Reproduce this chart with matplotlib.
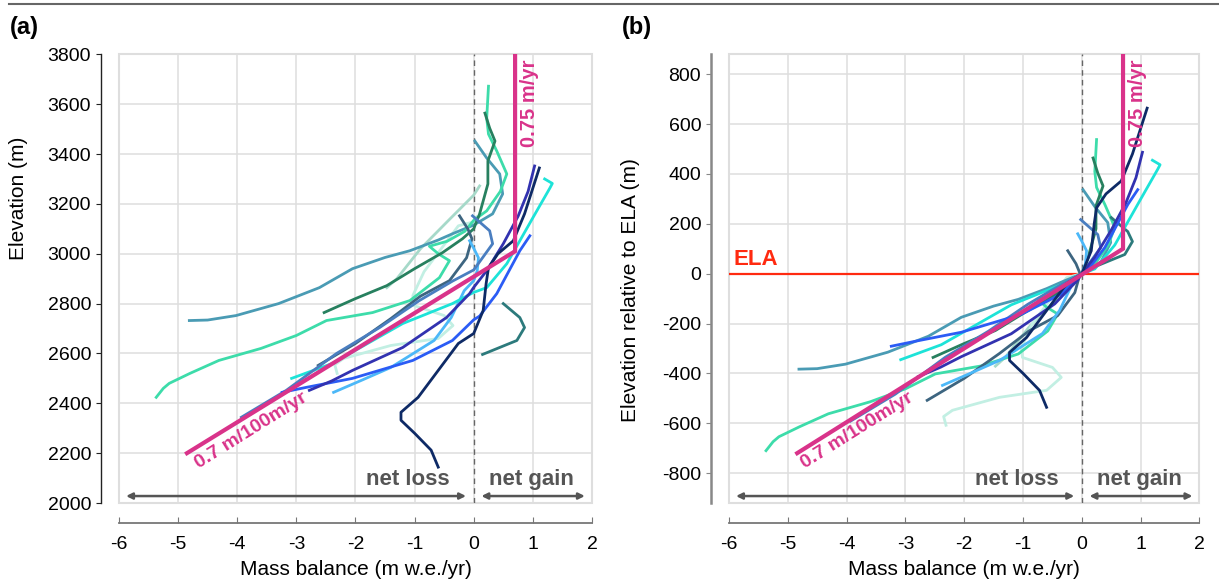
import matplotlib
matplotlib.use("Agg")
import matplotlib.pyplot as plt
from matplotlib.lines import Line2D
from matplotlib.patches import Rectangle
import numpy as np

plt.rcParams["font.family"] = ["Liberation Sans", "DejaVu Sans"]
plt.rcParams["axes.unicode_minus"] = False

# ---- data: mass balance profiles (m w.e./yr) vs elevation (m a.s.l.) ----
steel_mb = [-4.81, -4.5, -4.02, -3.3, -2.61, -2.05, -1.5, -1.08, -0.6, -0.36, 0.0, 0.32, 0.49, 0.44, 0.22, 0.02]
steel_z = [2732, 2734, 2752, 2800, 2864, 2940, 2985, 3012, 3055, 3080, 3115, 3160, 3240, 3320, 3384, 3452]

mint_mb = [-5.37, -5.25, -5.15, -4.8, -4.31, -3.6, -3.0, -2.49, -1.71, -1.08, -0.58, -0.41, -0.6, -0.75, -0.45,
           -0.15, 0.0, 0.22, 0.45, 0.56, 0.39, 0.25, 0.22, 0.25]
mint_z = [2424, 2460, 2480, 2520, 2572, 2620, 2672, 2732, 2764, 2812, 2904, 2972, 3000, 3030, 3050,
          3090, 3134, 3172, 3250, 3320, 3412, 3480, 3544, 3672]

green_mb = [-2.53, -2.0, -1.47, -1.0, -0.53, -0.19, 0.0, 0.10, 0.24, 0.24, 0.36, 0.27, 0.19]
green_z = [2764, 2820, 2872, 2940, 3004, 3060, 3100, 3160, 3280, 3372, 3452, 3504, 3564]

sage_mb = [-1.47, -1.3, -0.9, -0.4, 0.0, 0.10]
sage_z = [2864, 2900, 3020, 3140, 3235, 3272]

pale_mb = [-2.31, -2.35, -2.2, -1.40, -0.60, -0.35, -0.50, -1.01, -1.03, -0.84, -0.55, -0.26, 0.0, 0.05]
pale_z = [2520, 2555, 2580, 2632, 2660, 2712, 2752, 2792, 2832, 2928, 3020, 3112, 3128, 3148]

sky_mb = [-2.37, -1.9, -1.40, -0.67, -0.38, -0.16, 0.0, 0.06, 0.08, 0.0, -0.07]
sky_z = [2444, 2492, 2544, 2652, 2744, 2852, 2892, 2932, 2984, 3022, 3052]

navy_mb = [-0.60, -0.72, -1.0, -1.23, -1.23, -0.94, -0.6, -0.26, 0.0, 0.16, 0.21, 0.25, 0.41, 0.67, 0.86, 1.11]
navy_z = [2144, 2212, 2280, 2332, 2364, 2424, 2532, 2640, 2680, 2772, 2880, 2944, 3000, 3052, 3160, 3344]

dteal_mb = [0.15, 0.45, 0.73, 0.86, 0.78, 0.5]
dteal_z = [2596, 2625, 2652, 2704, 2744, 2800]

royal_mb = [-3.24, -2.83, -2.05, -1.03, -0.36, 0.0, 0.10, 0.39, 0.78, 0.95]
royal_z = [2444, 2464, 2500, 2572, 2652, 2735, 2750, 2840, 3012, 3072]

indigo_mb = [-2.78, -2.4, -2.05, -1.20, -0.46, -0.07, 0.0, 0.22, 0.5, 0.75, 0.92, 1.03]
indigo_z = [2452, 2490, 2532, 2624, 2744, 2840, 2865, 2932, 3040, 3150, 3250, 3352]

cyan_mb = [-3.08, -2.39, -1.20, -0.36, 0.0, 0.22, 0.56, 1.0, 1.29, 1.33, 1.2]
cyan_z = [2500, 2560, 2720, 2800, 2845, 2864, 2960, 3144, 3264, 3282, 3300]

slate_mb = [-3.93, -3.17, -2.32, -1.59, -0.92, -0.36, 0.0, 0.15, 0.32, 0.27, -0.02]
slate_z = [2344, 2452, 2600, 2704, 2812, 2890, 2935, 2984, 3040, 3092, 3152]

dslate_mb = [-2.63, -2.0, -1.4, -0.9, -0.41, -0.12, -0.03, -0.10, -0.24]
dslate_z = [2552, 2640, 2740, 2830, 2892, 2984, 3060, 3100, 3152]

# (colour, mass balance, elevation, ELA) - drawing order back to front
GLACIERS = [
    ("#a6d9c9", sage_mb, sage_z, 3235),
    ("#c2efe3", pale_mb, pale_z, 3128),
    ("#4a9bb4", steel_mb, steel_z, 3115),
    ("#3ddcaa", mint_mb, mint_z, 3134),
    ("#27805f", green_mb, green_z, 3100),
    ("#2c7a7c", dteal_mb, dteal_z, 2575),
    ("#3d6580", dslate_mb, dslate_z, 3060),
    ("#4cb8f8", sky_mb, sky_z, 2892),
    ("#1de3d8", cyan_mb, cyan_z, 2845),
    ("#4a7ec0", slate_mb, slate_z, 2935),
    ("#2b5cf5", royal_mb, royal_z, 2735),
    ("#3232b0", indigo_mb, indigo_z, 2865),
    ("#0e2a66", navy_mb, navy_z, 2680),
]

# reference gradient: 0.7 m/100m below, capped at 0.75 m/yr above
ref_a_mb = [-4.85, 0.7, 0.7]
ref_a_z = [2200, 3010, 3800]
ref_b_mb = [-4.84, 0.7, 0.7]
ref_b_z = [-720, 100, 880]

PINK = "#d9338a"
GREY = "#555555"
x_ticks = [-6, -5, -4, -3, -2, -1, 0, 1, 2]


def style_axes(ax, ylim, yticks, ylabel, left_color, left_lw, label_xy):
    ax.set_xlim(-6, 2)
    ax.set_ylim(*ylim)
    ax.set_xticks(x_ticks)
    ax.set_yticks(yticks)
    ax.grid(True, color="#dedede", lw=1.1)
    ax.set_axisbelow(True)
    for s in ("top", "right"):
        ax.spines[s].set_visible(False)
    ax.spines["left"].set_position(("outward", 13))
    ax.spines["bottom"].set_position(("outward", 14.5))
    ax.spines["left"].set_color(left_color)
    ax.spines["left"].set_linewidth(left_lw)
    ax.spines["bottom"].set_color("#777777")
    ax.spines["bottom"].set_linewidth(1.3)
    ax.tick_params(axis="x", direction="in", length=4, color="#777777", pad=9, labelsize=14)
    ax.tick_params(axis="y", direction="out", length=3.5, color=left_color, labelsize=14)
    ax.add_patch(Rectangle((0, 0), 1, 1, transform=ax.transAxes, fill=False,
                           edgecolor="#dedede", lw=1.5, clip_on=False, zorder=0.5))
    ax.axvline(0, color="#666666", ls=(0, (4, 3)), lw=1.0, zorder=1)
    ax.set_xlabel("Mass balance (m w.e./yr)", fontsize=15, labelpad=5)
    ax.set_ylabel(ylabel, fontsize=15)
    ax.yaxis.set_label_coords(*label_xy)


def net_labels(ax, y_text, y_arrow, x_loss, x_gain):
    ax.annotate("", xy=(-5.88, y_arrow), xytext=(-0.13, y_arrow),
                arrowprops=dict(arrowstyle="<|-|>", color=GREY, lw=1.8, mutation_scale=9,
                                shrinkA=0, shrinkB=0))
    ax.annotate("", xy=(0.13, y_arrow), xytext=(1.88, y_arrow),
                arrowprops=dict(arrowstyle="<|-|>", color=GREY, lw=1.8, mutation_scale=9,
                                shrinkA=0, shrinkB=0))
    ax.text(x_loss, y_text, "net loss", color=GREY, fontsize=16, fontweight="bold",
            ha="center", va="center")
    ax.text(x_gain, y_text, "net gain", color=GREY, fontsize=16, fontweight="bold",
            ha="center", va="center")


fig = plt.figure(figsize=(12.19, 5.82), dpi=100)
ax_a = fig.add_axes([0.0976, 0.1357, 0.388, 0.771])
ax_b = fig.add_axes([0.598, 0.1357, 0.386, 0.771])

style_axes(ax_a, (2000, 3800), np.arange(2000, 3801, 200), "Elevation (m)",
           "#222222", 1.0, (-0.193, 0.68))
style_axes(ax_b, (-920, 880), np.arange(-800, 801, 200), "Elevation relative to ELA (m)",
           "#888888", 1.8, (-0.19, 0.475))

# ELA line in (b)
ax_b.axhline(0, color="#ff2a10", lw=1.6, zorder=1.5)
ax_b.text(-5.93, 15, "ELA", color="#ff2a10", fontsize=16, fontweight="bold", ha="left", va="bottom")

for color, mb, z, ela in GLACIERS:
    ax_a.plot(mb, z, color=color, lw=2.0, solid_joinstyle="round", zorder=2)
    ax_b.plot(mb, np.array(z) - ela, color=color, lw=2.0, solid_joinstyle="round", zorder=2)

ax_a.plot(ref_a_mb, ref_a_z, color=PINK, lw=3.0, zorder=3, solid_joinstyle="miter")
ax_b.plot(ref_b_mb, ref_b_z, color=PINK, lw=3.0, zorder=3, solid_joinstyle="miter")

ax_a.text(0.94, 3605, "0.75 m/yr", color=PINK, fontsize=14.5, fontweight="bold",
          rotation=90, ha="center", va="center")
ax_b.text(0.94, 685, "0.75 m/yr", color=PINK, fontsize=14.5, fontweight="bold",
          rotation=90, ha="center", va="center")
ax_a.text(-3.76, 2290, "0.7 m/100m/yr", color=PINK, fontsize=14, fontweight="bold",
          rotation=32, ha="center", va="center", rotation_mode="anchor")
ax_b.text(-3.82, -630, "0.7 m/100m/yr", color=PINK, fontsize=14, fontweight="bold",
          rotation=32, ha="center", va="center", rotation_mode="anchor")

net_labels(ax_a, 2096, 2028, -1.12, 0.98)
net_labels(ax_b, -824, -892, -1.10, 0.98)

fig.text(0.008, 0.952, "(a)", fontsize=17, fontweight="bold", ha="left", va="center")
fig.text(0.510, 0.952, "(b)", fontsize=17, fontweight="bold", ha="left", va="center")
fig.add_artist(Line2D([0.007, 1.0], [0.993, 0.993], color="#666666", lw=1.5))

fig.savefig("out.png", dpi=100)
